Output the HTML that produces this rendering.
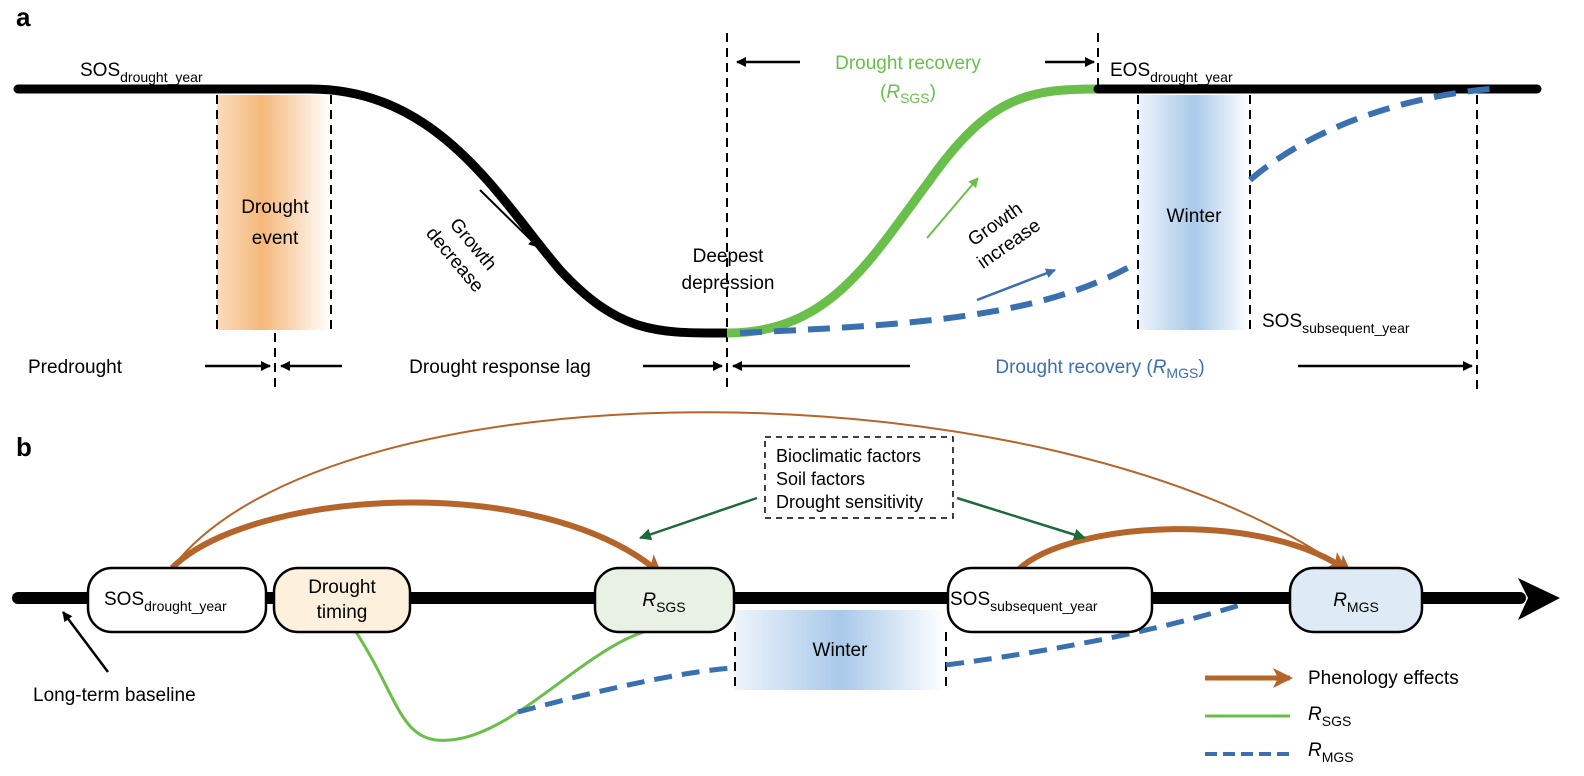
<!DOCTYPE html>
<html><head><meta charset="utf-8"><style>
html,body{margin:0;padding:0;background:#fff}
svg{display:block}
text{font-family:"Liberation Sans",sans-serif;font-size:19px;fill:#000}
.sub{font-size:14px}
</style></head><body>
<svg width="1584" height="776" viewBox="0 0 1584 776" xmlns="http://www.w3.org/2000/svg">
<defs>
<linearGradient id="og" x1="0" x2="1" y1="0" y2="0">
<stop offset="0" stop-color="#f5b87a" stop-opacity="0.5"/><stop offset="0.4" stop-color="#f5b87a"/><stop offset="1" stop-color="#f5b87a" stop-opacity="0"/></linearGradient>
<linearGradient id="bg" x1="0" x2="1" y1="0" y2="0">
<stop offset="0" stop-color="#a9c9ea" stop-opacity="0.2"/><stop offset="0.5" stop-color="#a9c9ea"/><stop offset="1" stop-color="#a9c9ea" stop-opacity="0"/></linearGradient>
<marker id="ak" markerWidth="10" markerHeight="10" refX="9" refY="5" orient="auto" markerUnits="userSpaceOnUse"><path d="M0,0 L10,5 L0,10 z" fill="#000"/></marker>
<marker id="ag" markerWidth="10" markerHeight="10" refX="9" refY="5" orient="auto" markerUnits="userSpaceOnUse"><path d="M0,0 L10,5 L0,10 z" fill="#6abf4b"/></marker>
<marker id="ab" markerWidth="10" markerHeight="10" refX="9" refY="5" orient="auto" markerUnits="userSpaceOnUse"><path d="M0,0 L10,5 L0,10 z" fill="#3a6fb0"/></marker>
<marker id="adg" markerWidth="12" markerHeight="12" refX="11" refY="6" orient="auto" markerUnits="userSpaceOnUse"><path d="M0,0 L12,6 L0,12 z" fill="#1e6b3a"/></marker>
<marker id="abr" markerWidth="20" markerHeight="20" refX="17" refY="10" orient="auto" markerUnits="userSpaceOnUse"><path d="M0,0 L20,10 L0,20 L5,10 z" fill="#b5652a"/></marker>
</defs>

<!-- Panel a -->
<text x="16" y="26" style="font-size:26px;font-weight:bold">a</text>
<rect x="217" y="95" width="114" height="235" fill="url(#og)"/>
<rect x="1138" y="95" width="112" height="235" fill="url(#bg)"/>
<g stroke="#000" stroke-width="2" stroke-dasharray="9,6" fill="none">
<line x1="217" y1="95" x2="217" y2="330"/><line x1="331" y1="95" x2="331" y2="330"/>
<line x1="275" y1="333" x2="275" y2="392"/>
<line x1="727" y1="33" x2="727" y2="392"/>
<line x1="1098" y1="33" x2="1098" y2="88"/>
<line x1="1138" y1="95" x2="1138" y2="330"/><line x1="1250" y1="95" x2="1250" y2="330"/>
<line x1="1477" y1="95" x2="1477" y2="392"/>
</g>
<path d="M18,89 L310,89 C440,89 500,200 560,270 C620,335 660,333 727,333" stroke="#000" stroke-width="9" fill="none" stroke-linecap="round"/>
<path d="M727,333 C830,333 870,260 930,180 C990,95 1030,89 1098,89" stroke="#6abf4b" stroke-width="9" fill="none"/>
<line x1="1098" y1="89" x2="1537" y2="89" stroke="#000" stroke-width="9" stroke-linecap="round"/>
<g stroke="#3a6fb0" stroke-width="6" fill="none" stroke-dasharray="22,12">
<path d="M740,333 C900,325 1040,320 1138,262"/>
<path d="M1250,180 C1320,120 1420,95 1490,89"/>
</g>
<text x="80" y="76">SOS<tspan class="sub" dy="6">drought_year</tspan></text>
<text x="1110" y="76">EOS<tspan class="sub" dy="6">drought_year</tspan></text>
<text x="1262" y="327">SOS<tspan class="sub" dy="6">subsequent_year</tspan></text>
<text x="275" y="213" text-anchor="middle">Drought</text>
<text x="275" y="244" text-anchor="middle">event</text>
<text x="1194" y="222" text-anchor="middle">Winter</text>
<text x="728" y="262" text-anchor="middle">Deepest</text>
<text x="728" y="289" text-anchor="middle">depression</text>
<text x="908" y="69" text-anchor="middle" style="fill:#6abf4b">Drought recovery</text>
<text x="908" y="98" text-anchor="middle" style="fill:#6abf4b">(<tspan font-style="italic">R</tspan><tspan class="sub" dy="5">SGS</tspan><tspan dy="-5">)</tspan></text>
<line x1="800" y1="62" x2="737" y2="62" stroke="#000" stroke-width="2.5" marker-end="url(#ak)"/>
<line x1="1045" y1="62" x2="1094" y2="62" stroke="#000" stroke-width="2.5" marker-end="url(#ak)"/>
<line x1="480" y1="190" x2="538" y2="247" stroke="#000" stroke-width="2" marker-end="url(#ak)"/>
<g transform="translate(464,252) rotate(50)"><text x="0" y="-6" text-anchor="middle">Growth</text><text x="0" y="18" text-anchor="middle">decrease</text></g>
<line x1="927" y1="238" x2="978" y2="178" stroke="#6abf4b" stroke-width="2" marker-end="url(#ag)"/>
<line x1="977" y1="300" x2="1055" y2="270" stroke="#3a6fb0" stroke-width="2.5" marker-end="url(#ab)"/>
<g transform="translate(1002,234) rotate(-35)"><text x="0" y="-6" text-anchor="middle">Growth</text><text x="0" y="18" text-anchor="middle">increase</text></g>
<text x="28" y="373">Predrought</text>
<text x="500" y="373" text-anchor="middle">Drought response lag</text>
<text x="1100" y="373" text-anchor="middle" style="fill:#3a6fb0">Drought recovery (<tspan font-style="italic">R</tspan><tspan class="sub" dy="5">MGS</tspan><tspan dy="-5">)</tspan></text>
<g stroke="#000" stroke-width="2.5">
<line x1="205" y1="366" x2="270" y2="366" marker-end="url(#ak)"/>
<line x1="342" y1="366" x2="281" y2="366" marker-end="url(#ak)"/>
<line x1="643" y1="366" x2="722" y2="366" marker-end="url(#ak)"/>
<line x1="910" y1="366" x2="733" y2="366" marker-end="url(#ak)"/>
<line x1="1298" y1="366" x2="1472" y2="366" marker-end="url(#ak)"/>
</g>

<!-- Panel b -->
<text x="16" y="456" style="font-size:26px;font-weight:bold">b</text>
<rect x="735" y="610" width="211" height="80" fill="url(#bg)"/>
<g stroke="#000" stroke-width="2" stroke-dasharray="9,6"><line x1="735" y1="632" x2="735" y2="690"/><line x1="946" y1="632" x2="946" y2="690"/></g>
<path d="M356,632 C400,700 400,745 450,740 C520,735 600,630 665,628" stroke="#6abf4b" stroke-width="3" fill="none"/>
<g stroke="#3a6fb0" stroke-width="5" fill="none" stroke-dasharray="18,10">
<path d="M518,712 C600,690 680,672 732,668"/>
<path d="M946,665 C1060,650 1160,630 1240,605"/>
</g>
<line x1="18" y1="598" x2="1520" y2="598" stroke="#000" stroke-width="12" stroke-linecap="round"/>
<path d="M1518,578 L1560,598 L1518,620 L1528,598 z" fill="#000"/>
<path d="M172,568 C330,360 1050,360 1345,570" stroke="#b5652a" stroke-width="2" fill="none" marker-end="url(#abr)"/>
<path d="M172,568 C250,490 540,470 660,573" stroke="#b5652a" stroke-width="6" fill="none" marker-end="url(#abr)"/>
<path d="M1018,570 C1070,520 1270,510 1350,573" stroke="#b5652a" stroke-width="6" fill="none" marker-end="url(#abr)"/>
<g stroke="#000" stroke-width="2.5">
<rect x="88" y="568" width="178" height="64" rx="24" fill="#fff"/>
<rect x="274" y="568" width="136" height="64" rx="24" fill="#fdf0dc"/>
<rect x="595" y="568" width="139" height="64" rx="24" fill="#e8f1e4"/>
<rect x="948" y="568" width="204" height="64" rx="24" fill="#fff"/>
<rect x="1290" y="568" width="132" height="64" rx="24" fill="#deebf7"/>
</g>
<text x="104" y="605">SOS<tspan class="sub" dy="6">drought_year</tspan></text>
<text x="342" y="593" text-anchor="middle">Drought</text>
<text x="342" y="618" text-anchor="middle">timing</text>
<text x="664" y="606" text-anchor="middle"><tspan font-style="italic">R</tspan><tspan class="sub" dy="6">SGS</tspan></text>
<text x="950" y="605">SOS<tspan class="sub" dy="6">subsequent_year</tspan></text>
<text x="1356" y="606" text-anchor="middle"><tspan font-style="italic">R</tspan><tspan class="sub" dy="6">MGS</tspan></text>
<text x="840" y="656" text-anchor="middle">Winter</text>
<rect x="765" y="437" width="188" height="81" fill="#fff" stroke="#000" stroke-width="1.5" stroke-dasharray="6,5"/>
<text x="776" y="462" style="font-size:18px">Bioclimatic factors</text>
<text x="776" y="485" style="font-size:18px">Soil factors</text>
<text x="776" y="508" style="font-size:18px">Drought sensitivity</text>
<line x1="757" y1="498" x2="640" y2="538" stroke="#1e6b3a" stroke-width="2.5" marker-end="url(#adg)"/>
<line x1="957" y1="498" x2="1085" y2="538" stroke="#1e6b3a" stroke-width="2.5" marker-end="url(#adg)"/>
<line x1="108" y1="672" x2="63" y2="612" stroke="#000" stroke-width="2.5" marker-end="url(#ak)"/>
<text x="33" y="701">Long-term baseline</text>
<line x1="1205" y1="678" x2="1290" y2="678" stroke="#b5652a" stroke-width="5" marker-end="url(#abr)"/>
<text x="1308" y="684">Phenology effects</text>
<line x1="1205" y1="716" x2="1290" y2="716" stroke="#6abf4b" stroke-width="3"/>
<text x="1308" y="720"><tspan font-style="italic">R</tspan><tspan class="sub" dy="6">SGS</tspan></text>
<line x1="1205" y1="754" x2="1290" y2="754" stroke="#3a6fb0" stroke-width="4" stroke-dasharray="12,6"/>
<text x="1308" y="756"><tspan font-style="italic">R</tspan><tspan class="sub" dy="6">MGS</tspan></text>
</svg>
</body></html>
